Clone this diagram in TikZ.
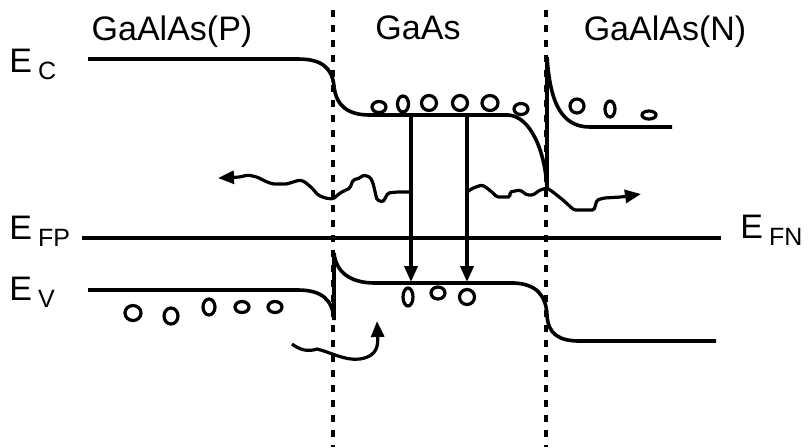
\documentclass[tikz,border=0pt]{standalone}
\usepackage{fontspec}
\setmainfont{Liberation Sans}
\usetikzlibrary{arrows.meta}
\newcommand{\lvl}[1]{E\kern3pt\raisebox{-3.5pt}{\fontsize{12.5}{14}\selectfont #1}}

\begin{document}
\begin{tikzpicture}[x=0.5pt,y=-0.5pt,>={Triangle[length=8pt,width=6.5pt]}]
\tikzset{
 band/.style={line width=1.8pt},
 border/.style={line width=1.8pt,dash pattern=on 3.5pt off 4pt},
 carrier/.style={line width=1.6pt,fill=white},
 photon/.style={->,line width=1.6pt,rounded corners=0.8pt},
 lbl/.style={font=\fontsize{17}{20}\selectfont,inner sep=0pt,anchor=base},
 level/.style={lbl,anchor=base west}
}
\useasboundingbox (0,0) rectangle (808,447);
\node[lbl] (pside) at (172,40) {GaAlAs(P)};
\node[lbl] (well) at (418,39) {GaAs};
\node[lbl] (nside) at (665,40) {GaAlAs(N)};
\node[level] (ec) at (9,72) {\lvl{C}};
\node[level] (efp) at (9,239) {\lvl{FP}};
\node[level] (ev) at (9,300) {\lvl{V}};
\node[level] (efn) at (740,238) {\lvl{FN}};
\coordinate (b1top) at (333,10); \coordinate (b1bot) at (333,447);
\coordinate (b2top) at (546,10); \coordinate (b2bot) at (546,447);
\draw[border] (b1top) -- (b1bot);
\draw[border] (b2top) -- (b2bot);
\draw[band] (88,59) -- (298,59) .. controls (322,59) and (332,68) .. (334,86)
 .. controls (336,106) and (348,115) .. (370,115) -- (508,115)
 .. controls (530,116) and (545,150) .. (547,188) -- (547,57)
 .. controls (550,100) and (560,127) .. (590,127) -- (672,127);
\draw[band] (82,238) -- (721,238);
\draw[band] (88,290) -- (298,290) .. controls (322,290) and (333,300) .. (334,320) -- (334,253)
 .. controls (336,272) and (350,283) .. (375,283) -- (514,283)
 .. controls (536,284) and (546,295) .. (547,315)
 .. controls (548,335) and (560,341) .. (580,341) -- (716,341);
\foreach \x/\y/\a/\b in {379/107/7/5.5,403/104/5.5/8,429/103/7.5/7.5,460/103/7.5/7.5,490/103/8/7.5,521/109/7/5.5,
 577/106/7/7,610/109/5/8,649/115/7/4,
 133/313/8/7.5,171/316/7/8,209/307/6/8,242/307/7/5.5,275/307/7/5.5,
 408/297/5/9,438/293/7/6,467/297/7.5/7.5}
 \draw[carrier] (\x,\y) ellipse [x radius=\a, y radius=\b];
\coordinate (c1) at (411,115); \coordinate (v1) at (411,282);
\coordinate (c2) at (467,115); \coordinate (v2) at (467,282);
\draw[->,band] (c1) -- (v1);
\draw[->,band] (c2) -- (v2);
\coordinate (e1) at (411,192); \coordinate (e2) at (467,192);
\coordinate (outl) at (218,178); \coordinate (outr) at (641,194);
\draw[photon] (e1) -- (397,192) -- (388,193) -- (383,202) -- (377,200) -- (373,183) -- (370,177)
 -- (363,175) -- (360,178) -- (353,180) -- (350,188) -- (340,193) -- (333,199) -- (325,198)
 -- (318,195) -- (312,188) -- (305,182) -- (300,180) -- (293,182) -- (287,184) -- (273,184)
 -- (267,182) -- (257,177) -- (248,175) -- (240,177) -- (outl);
\draw[photon] (e2) -- (473,188) -- (482,185) -- (487,188) -- (493,193) -- (497,197) -- (510,197)
 -- (510,192) -- (520,190) -- (527,195) -- (533,195) -- (540,190) -- (547,188) -- (553,192)
 -- (563,200) -- (574,210) -- (594,210) -- (597,200) -- (604,198) -- (621,197) -- (outr);
\coordinate (hs) at (292,344); \coordinate (he) at (377,321);
\draw[->,line width=1.6pt] (hs) .. controls (300,350) and (308,352) .. (317,349)
 .. controls (330,352) and (345,361) .. (360,359) .. controls (378,356) and (378,345) .. (he);
\end{tikzpicture}
\end{document}
